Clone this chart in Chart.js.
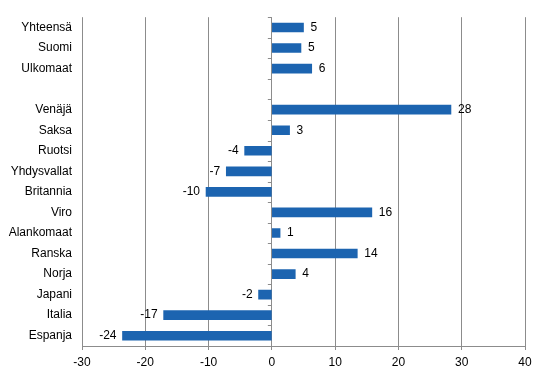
<!DOCTYPE html>
<html>
<head>
<meta charset="utf-8">
<script src="https://cdn.jsdelivr.net/npm/chart.js@4"></script>
<style>
  body { margin: 0; background: #fff; }
</style>
</head>
<body>
<canvas id="myBarChart" width="546" height="376"></canvas>
<script>
// categories top to bottom, blank row between groups
var countries = ['Yhteensä', 'Suomi', 'Ulkomaat', '', 'Venäjä', 'Saksa', 'Ruotsi', 'Yhdysvallat',
    'Britannia', 'Viro', 'Alankomaat', 'Ranska', 'Norja', 'Japani', 'Italia', 'Espanja'];
var change = [5.0, 4.6, 6.3, null, 28.3, 2.8, -4.3, -7.2, -10.4, 15.8, 1.3, 13.5, 3.7, -2.1, -17.1, -23.6];
var xTicks = [-30, -20, -10, 0, 10, 20, 30, 40];

var gridGrey = '#8c8c8c';

// value labels next to the bar ends
var valueLabels = {
    id: 'valueLabels',
    afterDatasetsDraw: function(chart) {
        var ctx = chart.ctx;
        var meta = chart.getDatasetMeta(0);
        ctx.save();
        ctx.font = '12px "Liberation Sans", Arial, sans-serif';
        ctx.fillStyle = '#000';
        ctx.textBaseline = 'middle';
        meta.data.forEach(function(bar, i) {
            var v = change[i];
            if (v === null) return;
            var txt = String(Math.round(v));
            if (v >= 0) {
                ctx.textAlign = 'left';
                ctx.fillText(txt, bar.x + 7, bar.y);
            } else {
                ctx.textAlign = 'right';
                ctx.fillText(txt, bar.x - 6, bar.y);
            }
        });
        ctx.restore();
    }
};

// category tick marks on the zero line
var zeroTicks = {
    id: 'zeroTicks',
    afterDraw: function(chart) {
        var ctx = chart.ctx;
        var x0 = chart.scales.x.getPixelForValue(0);
        var area = chart.chartArea;
        var step = (area.bottom - area.top) / countries.length;
        ctx.save();
        ctx.strokeStyle = gridGrey;
        ctx.lineWidth = 1;
        ctx.beginPath();
        for (var i = 0; i <= countries.length; i++) {
            var yy = Math.round(area.top + i * step) + 0.5;
            ctx.moveTo(x0 - 4, yy);
            ctx.lineTo(x0, yy);
        }
        ctx.stroke();
        ctx.restore();
    }
};

var ctx = document.getElementById('myBarChart').getContext('2d');
var myBarChart = new Chart(ctx, {
    type: 'bar',
    data: {
        labels: countries,
        datasets: [{
            data: change,
            backgroundColor: '#1c64b0',
            barThickness: 9
        }]
    },
    options: {
        indexAxis: 'y',
        responsive: false,
        animation: false,
        layout: { padding: { top: 13, right: 21, left: 0, bottom: 0 } },
        plugins: {
            legend: { display: false },
            tooltip: { enabled: false }
        },
        scales: {
            x: {
                min: -30,
                max: 40,
                afterBuildTicks: function(scale) {
                    scale.ticks = xTicks.map(function(v) { return { value: v }; });
                },
                afterFit: function(scale) { scale.height = 30; },
                grid: { color: gridGrey, tickLength: 4 },
                border: { color: gridGrey },
                ticks: {
                    color: '#000',
                    padding: 5,
                    font: { family: '"Liberation Sans", Arial, sans-serif', size: 12 }
                }
            },
            y: {
                afterFit: function(scale) { scale.width = 82; },
                grid: { display: false, drawTicks: false },
                border: { display: false },
                ticks: {
                    color: '#000',
                    padding: 10,
                    autoSkip: false,
                    font: { family: '"Liberation Sans", Arial, sans-serif', size: 12 }
                }
            }
        }
    },
    plugins: [valueLabels, zeroTicks]
});
</script>
</body>
</html>
